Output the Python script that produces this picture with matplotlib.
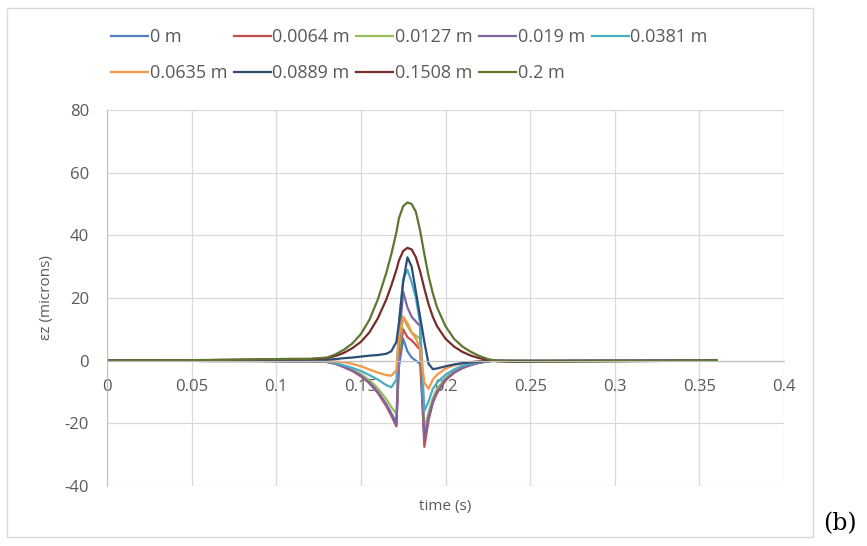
import matplotlib
matplotlib.use("Agg")
import matplotlib.pyplot as plt
from matplotlib.patches import Rectangle
from matplotlib.ticker import FuncFormatter, MultipleLocator

# time samples shared by every depth (s)
time_s = [0, 0.03, 0.06, 0.09, 0.11, 0.12, 0.13, 0.135, 0.14, 0.145,
          0.15, 0.155, 0.16, 0.165, 0.168, 0.171, 0.1725, 0.175, 0.1775, 0.18,
          0.1825, 0.185, 0.1875, 0.19, 0.1925, 0.195, 0.2, 0.205, 0.21, 0.215,
          0.22, 0.225, 0.23, 0.24, 0.26, 0.29, 0.32, 0.36]

depth_labels = ["0 m", "0.0064 m", "0.0127 m", "0.019 m", "0.0381 m",
                "0.0635 m", "0.0889 m", "0.1508 m", "0.2 m"]
depth_colors = ["#4F81BD", "#C0504D", "#9BBB59", "#8064A2", "#4BACC6",
                "#F79646", "#2C4D75", "#772C2A", "#5F7530"]

# vertical strain, microns
ez_0 = [0, 0, -0.1, -0.1, -0.2, -0.2, -0.4, -0.9, -1.9, -3.1,
        -4.7, -6.9, -9.9, -13.9, -16.8, -19.8, -2, 7, 3, 1,
        0, -1, -24, -18, -12.8, -9.8, -6, -3.7, -2.2, -1.3,
        -0.6, -0.2, 0, 0.1, 0.1, 0.1, 0, 0]
ez_0064 = [0, 0, -0.1, -0.1, -0.2, -0.2, -0.4, -1, -2.1, -3.3,
           -5, -7.2, -10.3, -14.5, -17.6, -21, 1, 10, 7.5, 6.5,
           5, 3.5, -27.5, -19, -13.5, -10.3, -6.3, -3.9, -2.4, -1.4,
           -0.7, -0.2, 0, 0.1, 0.1, 0.1, 0, 0]
ez_0127 = [0, 0, -0.1, -0.1, -0.2, -0.2, -0.4, -0.9, -1.8, -2.9,
           -4.3, -6.2, -8.8, -12.3, -14.8, -17, 3, 14, 11, 9,
           8, 7, -22, -16.5, -12, -9, -5.5, -3.4, -2.1, -1.2,
           -0.6, -0.2, 0, 0.1, 0.1, 0.1, 0, 0]
ez_019 = [0, 0, -0.1, -0.1, -0.2, -0.2, -0.4, -1, -2, -3.2,
          -4.8, -7, -10, -14, -17, -20.5, 6, 22, 17, 14,
          12.5, 11, -25, -18, -13, -10, -6, -3.8, -2.3, -1.3,
          -0.6, -0.2, 0, 0.1, 0.1, 0.1, 0, 0]
ez_0381 = [0, 0, 0, -0.1, -0.1, -0.1, -0.3, -0.8, -1.5, -2.3,
           -3.3, -4.6, -6, -7.8, -8.5, -6, 12, 26, 29, 25,
           20, 12, -16, -13, -9, -7, -4.5, -2.8, -1.6, -0.9,
           -0.4, -0.1, 0, 0.1, 0.1, 0, 0, 0]
ez_0635 = [0, 0, 0, 0, 0, -0.1, -0.2, -0.3, -0.5, -1,
           -1.8, -2.8, -3.8, -4.6, -4.8, -3, 8, 14, 12, 9,
           7, 4, -7, -9, -6, -4.5, -2.5, -1.5, -0.8, -0.4,
           -0.2, 0, 0, 0, 0, 0, 0, 0]
ez_0889 = [0, 0, 0.1, 0.2, 0.3, 0.3, 0.3, 0.5, 0.8, 1,
           1.3, 1.6, 1.8, 2.2, 3, 6, 12, 25, 33, 30,
           22, 14, 6, -1, -2.7, -2.5, -1.8, -1.2, -0.8, -0.5,
           -0.3, -0.1, 0, -0.1, -0.1, 0, 0, 0]
ez_1508 = [0, 0.1, 0.2, 0.4, 0.5, 0.5, 0.8, 1.5, 2.5, 4,
           6, 9, 13.5, 19.5, 24, 29, 32, 35, 36, 35.5,
           33, 28.5, 23, 18, 14, 11, 7, 4.5, 2.8, 1.6,
           0.8, 0.2, -0.2, -0.4, -0.3, -0.2, -0.1, 0]
ez_2 = [0, 0.1, 0.2, 0.4, 0.6, 0.6, 1, 2, 3.5, 5.5,
        8.5, 13, 19.5, 28, 34, 41, 45.5, 49.3, 50.5, 50,
        47.5, 41.5, 34, 27, 21.5, 17, 11, 7, 4.5, 2.8,
        1.5, 0.5, 0, -0.3, -0.3, -0.2, -0.1, 0]

ez_series = [ez_0, ez_0064, ez_0127, ez_019, ez_0381,
             ez_0635, ez_0889, ez_1508, ez_2]

TEXT_COLOR = "#595959"
GRID_COLOR = "#D9D9D9"


def strain_plot():
    plt.rcParams["font.family"] = ["Open Sans", "DejaVu Sans"]
    plt.rcParams["font.size"] = 12

    fig = plt.figure(figsize=(8.67, 5.46), dpi=100)
    ax = fig.add_axes([107 / 867, 1 - 486 / 546, 677 / 867, 376 / 546])

    lines = []
    for label, color, values in zip(depth_labels, depth_colors, ez_series):
        line, = ax.plot(time_s, values, color=color, lw=1.6, label=label)
        lines.append(line)

    ax.set_xlim(0, 0.4)
    ax.set_ylim(-40, 80)
    ax.xaxis.set_major_locator(MultipleLocator(0.05))
    ax.yaxis.set_major_locator(MultipleLocator(20))
    ax.xaxis.set_major_formatter(FuncFormatter(lambda v, p: "{:g}".format(round(v, 2))))
    ax.yaxis.set_major_formatter(FuncFormatter(lambda v, p: "{:d}".format(int(round(v)))))
    ax.grid(True, color=GRID_COLOR, lw=0.9)
    ax.set_axisbelow(True)

    # horizontal axis crosses at zero, as in the spreadsheet chart
    ax.spines["bottom"].set_position(("data", 0))
    ax.spines["bottom"].set_color("#BFBFBF")
    ax.spines["left"].set_color("#BFBFBF")
    ax.spines["top"].set_visible(False)
    ax.spines["right"].set_visible(False)
    ax.tick_params(axis="x", length=0, pad=13, colors=TEXT_COLOR, labelsize=12)
    ax.tick_params(axis="y", length=0, pad=13, colors=TEXT_COLOR, labelsize=12)

    ax.set_xlabel("time (s)", color=TEXT_COLOR, fontsize=11)
    ax.xaxis.set_label_coords(0.5, -0.035)
    ax.set_ylabel("εz (microns)", color=TEXT_COLOR, fontsize=11)
    ax.yaxis.set_label_coords(-0.078, 0.5)

    # legend filled row by row: 5 entries on top, 4 below
    order = [0, 5, 1, 6, 2, 7, 3, 8, 4]
    fig.legend([lines[i] for i in order], [depth_labels[i] for i in order],
               loc="upper left", bbox_to_anchor=(111 / 867, 1 - 28 / 546),
               ncol=5, frameon=False, fontsize=13, labelcolor=TEXT_COLOR,
               handlelength=2.05, handletextpad=0.1, columnspacing=0.35,
               labelspacing=1.0, borderpad=0, borderaxespad=0)

    fig.patches.append(Rectangle((7 / 867, 1 - 537 / 546), 806 / 867, 529 / 546,
                                 transform=fig.transFigure, fill=False,
                                 edgecolor=GRID_COLOR, lw=1))
    fig.text(840 / 867, 1 - 524 / 546, "(b)", family="DejaVu Serif",
             fontsize=17, ha="center", va="center", color="black")

    fig.savefig("out.png", dpi=100)


if __name__ == "__main__":
    strain_plot()
